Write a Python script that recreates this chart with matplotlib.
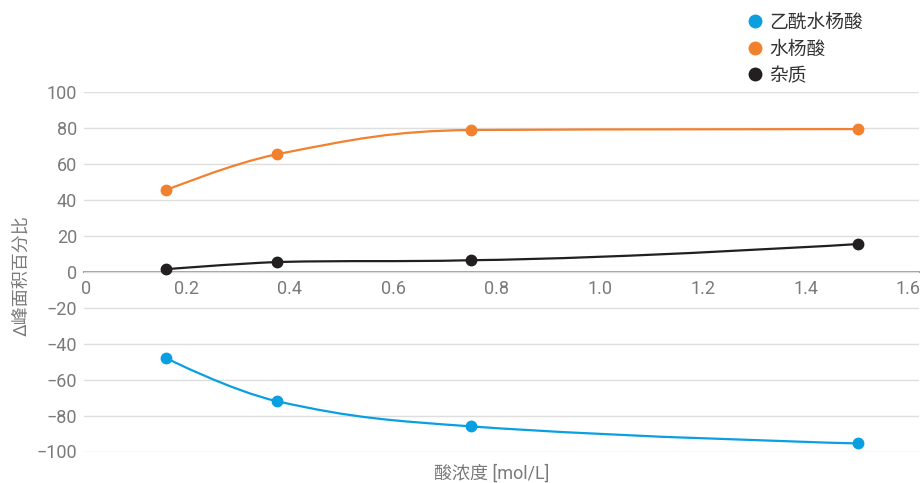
import matplotlib
matplotlib.use("Agg")
import matplotlib.pyplot as plt
from matplotlib.path import Path
from matplotlib.patches import PathPatch
from matplotlib.lines import Line2D
from matplotlib.transforms import ScaledTranslation

plt.rcParams['font.family'] = ['Roboto', 'Noto Sans CJK SC', 'DejaVu Sans']
plt.rcParams['axes.unicode_minus'] = True

# acid concentration [mol/L]
acid_conc = [0.16, 0.375, 0.75, 1.5]
# change in peak-area percentage per component
aspirin = [-48, -72, -86, -95.5]
salicylic = [45.5, 65.5, 79, 79.5]
impurity = [1.5, 5.5, 6.5, 15.5]

series_names = ['乙酰水杨酸', '水杨酸', '杂质']
series_colors = ['#0a9fe0', '#f2812f', '#231f20']

x_ticks = [0, 0.2, 0.4, 0.6, 0.8, 1.0, 1.2, 1.4, 1.6]
x_tick_labels = ['0', '0.2', '0.4', '0.6', '0.8', '1.0', '1.2', '1.4', '1.6']
y_ticks = [-100, -80, -60, -40, -20, 0, 20, 40, 60, 80, 100]
y_tick_labels = ['−100', '−80', '−60', '−40', '−20', '0', '20', '40', '60', '80', '100']

x_label = '酸浓度 [mol/L]'
y_label = 'Δ峰面积百分比'


def spline_path(xs, ys, smoothing=1.5):
    """Cubic Bezier path through the points with clamped smooth control points."""
    denom = smoothing + 1
    n = len(xs)
    left = [None] * n
    right = [None] * n
    for i in range(1, n - 1):
        px, py = xs[i], ys[i]
        lx, ly = xs[i - 1], ys[i - 1]
        nx, ny = xs[i + 1], ys[i + 1]
        lcx = (smoothing * px + lx) / denom
        lcy = (smoothing * py + ly) / denom
        rcx = (smoothing * px + nx) / denom
        rcy = (smoothing * py + ny) / denom
        if rcx != lcx:
            corr = ((rcy - lcy) * (rcx - px)) / (rcx - lcx) + py - rcy
            lcy += corr
            rcy += corr
        if lcy > ly and lcy > py:
            lcy = max(ly, py)
            rcy = 2 * py - lcy
        elif lcy < ly and lcy < py:
            lcy = min(ly, py)
            rcy = 2 * py - lcy
        if rcy > ny and rcy > py:
            rcy = max(ny, py)
            lcy = 2 * py - rcy
        elif rcy < ny and rcy < py:
            rcy = min(ny, py)
            lcy = 2 * py - rcy
        left[i] = (lcx, lcy)
        right[i] = (rcx, rcy)
    verts = [(xs[0], ys[0])]
    codes = [Path.MOVETO]
    for i in range(1, n):
        c1 = right[i - 1] if right[i - 1] is not None else (xs[i - 1], ys[i - 1])
        c2 = left[i] if left[i] is not None else (xs[i], ys[i])
        verts += [c1, c2, (xs[i], ys[i])]
        codes += [Path.CURVE4] * 3
    return Path(verts, codes)


fig = plt.figure(figsize=(9.22, 4.83), dpi=100)
ax = fig.add_axes([83.5 / 922, 31.5 / 483, 835.5 / 922, 359.2 / 483])

ax.set_xlim(0, 1.619)
ax.set_ylim(-100, 100)

ax.set_yticks(y_ticks)
ax.set_yticklabels(y_tick_labels)
ax.set_xticks(x_ticks)
ax.set_xticklabels(x_tick_labels)

ax.grid(axis='y', color='#dedede', linewidth=1.0, zorder=0)
ax.grid(axis='x', visible=False)

for side in ['top', 'right', 'left']:
    ax.spines[side].set_visible(False)
ax.spines['bottom'].set_position(('data', 0))
ax.spines['bottom'].set_color('#9a9a9a')
ax.spines['bottom'].set_linewidth(1.4)
ax.spines['bottom'].set_zorder(1)

ax.tick_params(axis='both', length=0, labelsize=13, labelcolor='#7a7a7a')
ax.tick_params(axis='y', pad=4.5)
ax.tick_params(axis='x', pad=6)

xlabels = ax.get_xticklabels()
first = xlabels[0]
first.set_transform(first.get_transform() + ScaledTranslation(3 / 100, 0, fig.dpi_scale_trans))
last = xlabels[-1]
last.set_ha('right')
last.set_transform(last.get_transform() + ScaledTranslation(11 / 100, 0, fig.dpi_scale_trans))

for ys, name, color in zip([aspirin, salicylic, impurity], series_names, series_colors):
    ax.add_patch(PathPatch(spline_path(acid_conc, ys), facecolor='none',
                           edgecolor=color, linewidth=1.6, zorder=3,
                           capstyle='round', joinstyle='round'))
    ax.plot(acid_conc, ys, linestyle='none', marker='o', markersize=7.5,
            color=color, zorder=4, clip_on=False)

ax.set_xlabel(x_label, fontsize=13, color='#7a7a7a', va='center')
ax.xaxis.set_label_coords(0.489, -0.062)
ax.set_ylabel(y_label, fontsize=13, color='#7a7a7a', va='center')
ax.yaxis.set_label_coords(-0.074, 0.49)

handles = [Line2D([], [], linestyle='none', marker='o', markersize=9, color=c)
           for c in series_colors]
fig.legend(handles, series_names, loc='upper left',
           bbox_to_anchor=(747 / 922, 1 - 14 / 483), frameon=False,
           fontsize=13.5, labelcolor='#333333', handlelength=0.8,
           handletextpad=0.4, labelspacing=0.45, borderpad=0, borderaxespad=0)

fig.savefig('out.png', dpi=100)
